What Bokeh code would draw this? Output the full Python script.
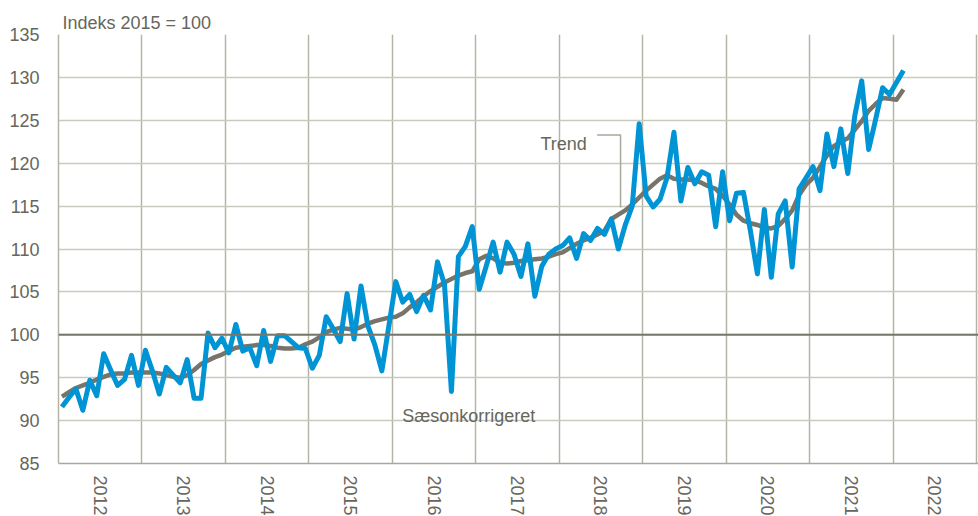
import math
from bokeh.plotting import figure
from bokeh.models import Range1d, FixedTicker, Span, Label, ColumnDataSource
from bokeh.embed import file_html
from bokeh.resources import INLINE

# Monthly data, Jan 2012 - Feb 2022 (Indeks 2015 = 100)
start_year = 2012
saeson = [91.6, 92.7, 93.7, 91.2, 94.7, 92.9, 97.8, 95.9, 94.1, 94.8, 97.6, 94.1,
          98.2, 95.8, 93.1, 96.2, 95.3, 94.4, 97.1, 92.6, 92.6, 100.2, 98.5, 99.6,
          97.9, 101.2, 98.1, 98.5, 96.4, 100.5, 96.9, 99.9, 99.9, 99.2, 98.5, 98.4,
          96.1, 97.6, 102.1, 100.7, 99.2, 104.8, 99.5, 105.7, 101.0, 98.8, 95.8, 101.0,
          106.2, 103.8, 104.7, 102.7, 104.6, 102.9, 108.5, 105.9, 93.4, 109.1, 110.3, 112.6,
          105.3, 108.0, 110.8, 107.3, 110.8, 109.4, 106.8, 110.6, 104.5, 108.0, 109.4, 110.0,
          110.4, 111.3, 108.9, 111.8, 111.0, 112.4, 111.7, 113.5, 110.0, 112.8, 115.0, 124.6,
          116.2, 114.9, 115.8, 118.3, 123.6, 115.6, 119.5, 117.6, 119.0, 118.6, 112.6, 119.0,
          113.3, 116.5, 116.6, 112.1, 107.1, 114.6, 106.7, 114.1, 115.6, 107.9, 117.0, 118.3,
          119.6, 116.8, 123.4, 119.6, 124.0, 118.8, 125.5, 129.6, 121.6, 125.1, 128.8, 128.0,
          129.4, 130.8]
trend = [92.8, 93.3, 93.8, 94.1, 94.4, 94.8, 95.1, 95.4, 95.5, 95.5, 95.6, 95.6,
         95.6, 95.6, 95.5, 95.3, 95.1, 95.0, 95.3, 95.9, 96.6, 97.0, 97.4, 97.7,
         98.1, 98.5, 98.6, 98.7, 98.8, 98.8, 98.7, 98.5, 98.4, 98.4, 98.5, 98.9,
         99.2, 99.7, 100.3, 100.6, 100.8, 100.7, 100.6, 100.9, 101.3, 101.6, 101.8, 102.0,
         102.1, 102.5, 103.2, 103.8, 104.5, 105.1, 105.6, 106.1, 106.5, 106.9, 107.2, 107.4,
         108.8, 109.2, 108.9, 108.4, 108.3, 108.4, 108.6, 108.7, 108.8, 108.9, 109.1, 109.4,
         109.6, 110.1, 110.6, 111.0, 111.3, 111.7, 112.1, 113.5, 114.0, 114.5, 115.2, 116.0,
         116.8, 117.5, 118.2, 118.6, 118.2, 118.1, 118.1, 118.0, 117.7, 117.3, 117.0, 116.2,
         115.2, 114.0, 113.3, 113.0, 112.8, 112.5, 112.4, 112.7, 113.5, 114.5, 116.3, 117.5,
         118.3, 119.6, 120.9, 122.0, 122.5, 122.9, 123.9, 124.9, 126.1, 126.9, 127.6, 127.5,
         127.4, 128.6]
years = list(range(2012, 2024))
year_labels = [str(y) for y in range(2012, 2023)]
y_ticks = [85, 90, 95, 100, 105, 110, 115, 120, 125, 130, 135]

x = [start_year + (i + 0.5) / 12 for i in range(len(saeson))]
src = ColumnDataSource(dict(x=x, s=saeson, t=trend))

FONT = "Liberation Sans"
FS = "18px"
TXT = "#66665c"
GRID = "#c9c9bd"
VGRID = "#b4b4a6"

p = figure(frame_width=920, frame_height=429, output_backend="svg", toolbar_location=None,
           x_range=Range1d(2012, 2012 + 920 / 83.45), y_range=Range1d(85, 135),
           min_border_left=58, min_border_right=0, min_border_top=34, min_border_bottom=53,
           title="Indeks 2015 = 100")
p.outline_line_color = None
p.background_fill_color = "white"
p.border_fill_color = "white"

p.title.text_font = FONT
p.title.text_font_size = FS
p.title.text_font_style = "normal"
p.title.text_color = TXT
p.title.align = "left"
p.title.offset = 4
p.title.standoff = 4

# grids
p.xgrid.ticker = FixedTicker(ticks=years)
p.xgrid.grid_line_color = VGRID
p.xgrid.grid_line_width = 1.5
p.ygrid.ticker = FixedTicker(ticks=y_ticks)
p.ygrid.grid_line_color = GRID
p.ygrid.grid_line_width = 1.5

# x axis: labels at mid-year, rotated
p.xaxis.ticker = FixedTicker(ticks=[y + 0.5 for y in range(2012, 2023)])
p.xaxis.major_label_overrides = {y + 0.5: lab for y, lab in zip(range(2012, 2023), year_labels)}
p.xaxis.major_label_orientation = -math.pi / 2
p.xaxis.major_tick_line_color = None
p.xaxis.minor_tick_line_color = None
p.xaxis.major_tick_out = 0
p.xaxis.major_tick_in = 0
p.xaxis.axis_line_color = "#a8a89a"
p.xaxis.axis_line_width = 1.5
p.xaxis.major_label_standoff = 12

p.yaxis.ticker = FixedTicker(ticks=y_ticks)
p.yaxis.major_tick_line_color = None
p.yaxis.minor_tick_line_color = None
p.yaxis.major_tick_out = 0
p.yaxis.major_tick_in = 0
p.yaxis.axis_line_color = VGRID
p.yaxis.axis_line_width = 1.5
p.yaxis.major_label_standoff = 19

for ax in (p.xaxis[0], p.yaxis[0]):
    ax.major_label_text_font = FONT
    ax.major_label_text_font_size = FS
    ax.major_label_text_color = TXT

p.add_layout(Span(location=100, dimension="width", line_color="#77776a", line_width=2))

p.line("x", "t", source=src, line_color="#77756a", line_width=4.5, line_join="round")
p.line("x", "s", source=src, line_color="#0094d4", line_width=5, line_join="round")

# annotations
p.add_layout(Label(x=2017.776, y=122.2, text="Trend", text_font=FONT,
                   text_font_size=FS, text_color=TXT, text_baseline="alphabetic"))
p.add_layout(Label(x=2016.119, y=90.56, text="Sæsonkorrigeret", text_font=FONT,
                   text_font_size=FS, text_color=TXT, text_baseline="alphabetic"))
lead_x = [2018.455, 2018.735, 2018.735]
lead_y = [123.28, 123.28, 114.84]
p.line(lead_x, lead_y, line_color="#a8a89a", line_width=1.5)

open("out.html", "w").write(file_html(p, INLINE))
